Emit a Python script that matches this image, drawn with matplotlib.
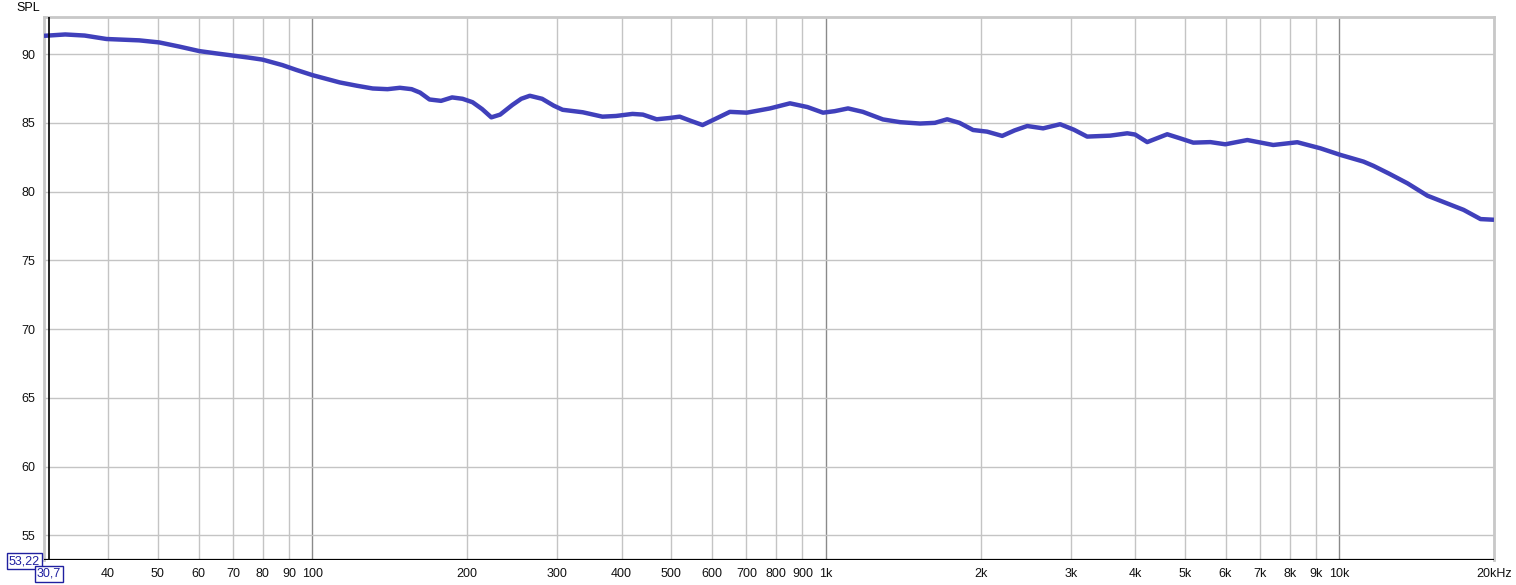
import matplotlib.pyplot as plt
from matplotlib.ticker import FixedLocator, NullLocator

# frequency response (Hz, dB SPL)
freq = [30, 33, 36, 39.7, 46, 50.3, 55, 60.2, 65, 69.8, 75, 79.9, 87.4, 93,
        100, 113, 122, 131, 140, 148, 156, 162, 169, 178, 187, 196, 205, 214,
        223, 232, 245, 255, 265, 280, 295, 307, 336, 367, 390, 420, 440, 468,
        495, 519, 545, 575, 610, 650, 701, 778, 851, 920, 987, 1040, 1104,
        1180, 1291, 1394, 1525, 1630, 1722, 1820, 1934, 2060, 2204, 2330,
        2466, 2648, 2858, 3040, 3226, 3578, 3862, 4000, 4223, 4620, 4898,
        5193, 5607, 5994, 6617, 7431, 8279, 9180, 10040, 11140, 11650, 12500,
        13570, 14840, 16670, 17450, 18830, 20000]
spl = [91.33, 91.43, 91.35, 91.1, 91.0, 90.85, 90.55, 90.22, 90.05, 89.9,
       89.75, 89.6, 89.2, 88.85, 88.47, 87.94, 87.7, 87.5, 87.45, 87.55,
       87.45, 87.2, 86.7, 86.6, 86.85, 86.75, 86.5, 86.0, 85.4, 85.6, 86.3,
       86.75, 86.97, 86.75, 86.25, 85.95, 85.77, 85.45, 85.5, 85.65, 85.6,
       85.26, 85.35, 85.45, 85.15, 84.84, 85.3, 85.8, 85.74, 86.05, 86.42,
       86.15, 85.74, 85.85, 86.05, 85.8, 85.25, 85.05, 84.95, 85.0, 85.26,
       85.0, 84.48, 84.36, 84.05, 84.45, 84.77, 84.6, 84.9, 84.5, 84.0,
       84.07, 84.24, 84.15, 83.6, 84.17, 83.87, 83.56, 83.6, 83.44, 83.75,
       83.39, 83.59, 83.15, 82.67, 82.18, 81.87, 81.3, 80.6, 79.7, 78.96,
       78.67, 78.0, 77.95]

x_ticks = [40, 50, 60, 70, 80, 90, 100, 200, 300, 400, 500, 600, 700, 800,
           900, 1000, 2000, 3000, 4000, 5000, 6000, 7000, 8000, 9000, 10000,
           20000]
x_labels = ['40', '50', '60', '70', '80', '90', '100', '200', '300', '400',
            '500', '600', '700', '800', '900', '1k', '2k', '3k', '4k', '5k',
            '6k', '7k', '8k', '9k', '10k', '20kHz']
y_ticks = [55, 60, 65, 70, 75, 80, 85, 90]
cursor_f, cursor_db = 30.7, 53.22

plt.rcParams['font.family'] = ['Liberation Sans', 'DejaVu Sans']

W, H = 1516, 585
fig = plt.figure(figsize=(W / 100, H / 100), dpi=100)
ax = fig.add_axes([44 / W, 1 - 560 / H, (1494 - 44) / W, (560 - 17) / H])

ax.set_xscale('log')
ax.set_xlim(30, 20000)
ax.set_ylim(53.2, 92.7)

# grid, decades a bit darker
for f in x_ticks:
    c = '#8a8a8a' if f in (100, 1000, 10000) else '#c4c4c4'
    ax.axvline(f, color=c, lw=1, zorder=1)
for v in y_ticks:
    ax.axhline(v, color='#c4c4c4', lw=1, zorder=1)

ax.plot(freq, spl, color='#4040bb', lw=3.2, solid_joinstyle='round',
        solid_capstyle='butt', zorder=3)

# cursor
ax.axvline(cursor_f, color='black', lw=1.2, zorder=4)
ax.axhline(cursor_db, color='black', lw=1.6, zorder=4)

ax.xaxis.set_major_locator(FixedLocator(x_ticks))
ax.set_xticklabels(x_labels)
ax.xaxis.set_minor_locator(NullLocator())
ax.set_yticks(y_ticks)
ax.tick_params(length=0, labelsize=9, colors='#111111', pad=6)

for s in ax.spines.values():
    s.set_color('#c8c8c8')
    s.set_linewidth(2)
ax.spines['bottom'].set_visible(False)

fig.text(16 / W, 1 - 8 / H, 'SPL', fontsize=9, ha='left', va='center')

box = dict(boxstyle='square,pad=0.15', fc='white', ec='#2020a0', lw=1)
fig.text(9 / W, 1 - 561 / H, '53,22', fontsize=9, color='#2020a0',
         ha='left', va='center', bbox=box)
fig.text(37 / W, 1 - 574 / H, '30,7', fontsize=9, color='#2020a0',
         ha='left', va='center', bbox=box)

fig.savefig('out.png', dpi=100)
